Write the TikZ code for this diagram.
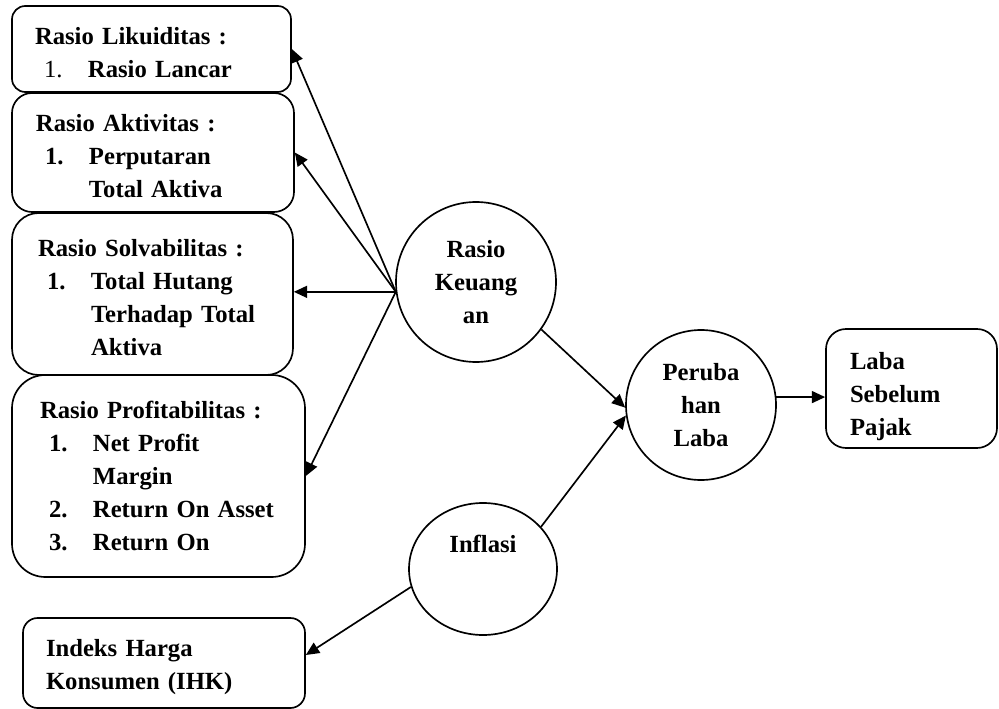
\documentclass[tikz,border=0pt]{standalone}
\usepackage{fontspec}
\setmainfont{Liberation Serif}
\usetikzlibrary{arrows.meta,shapes.geometric}

\newcommand{\tebal}{\fontsize{18.5}{24.75}\selectfont\bfseries}
\newcommand{\nomor}[1]{\hspace*{6.75pt}\makebox[33pt][l]{#1}}
\newcommand{\lanjut}{\hspace*{39.75pt}}

\begin{document}
\begin{tikzpicture}[
        x=0.75pt, y=-0.75pt,
        line width=1.25pt,
        kotak/.style={draw, rounded corners=#1, align=left, inner ysep=0pt, font=\tebal},
        bulat/.style={draw, circle, align=center, inner sep=0pt, font=\tebal},
        turun/.style={execute at begin node={\rule{0pt}{#1}}},
        panah/.style={-{Triangle[length=10pt, width=9pt]}},
    ]
    \useasboundingbox (0,0) rectangle (999,709);

    \node[kotak=10pt, turun=18.7pt, inner xsep=17.25pt, text width=174.75pt, minimum height=64.5pt] (lik) at (151.5,49)
        {Rasio Likuiditas :\\ \nomor{\mdseries 1.}Rasio Lancar};
    \node[kotak=15pt, turun=18.7pt, inner xsep=18pt, text width=175.5pt, minimum height=89.25pt] (akt) at (153,152.5)
        {Rasio Aktivitas :\\ \nomor{1.}Perputaran\\ \lanjut Total Aktiva};
    \node[kotak=20pt, turun=17.5pt, inner xsep=19.5pt, text width=171.75pt, minimum height=121.5pt] (sol) at (152.5,294)
        {Rasio Solvabilitas :\\ \nomor{1.}Total Hutang\\ \lanjut Terhadap Total\\ \lanjut Aktiva};
    \node[kotak=25pt, inner xsep=21pt, text width=177.75pt, minimum height=151.5pt] (pro) at (158.5,476)
        {Rasio Profitabilitas :\\ \nomor{1.}Net Profit\\ \lanjut Margin\\ \nomor{2.}Return On Asset\\ \nomor{3.}Return On};
    \node[kotak=11pt, turun=19pt, inner xsep=17.25pt, text width=177pt, minimum height=67.5pt] (ihk) at (164,663)
        {Indeks Harga\\ Konsumen (IHK)};
    \node[kotak=15pt, turun=24.5pt, inner xsep=18pt, text width=92.25pt, minimum height=89.25pt] (laba) at (911.5,388.5)
        {Laba\\ Sebelum\\ Pajak};

    \node[bulat, minimum size=120pt] (rk) at (476,282) {Rasio\\ Keuang\\ an};
    \node[bulat, turun=17pt, minimum size=112.5pt] (pl) at (701,405) {Peruba\\ han\\ Laba};
    \node[bulat, ellipse, minimum width=111pt, minimum height=99pt] (inf) at (483,569) {};
    \node[font=\tebal, anchor=base, inner sep=0pt] (inftext) at (483,552) {Inflasi};

    \path
    (rk.187) edge[panah] (lik.east)
    (rk.187) edge[panah] (akt.east)
    (rk.187) edge[panah] (rk.187 -| sol.east)
    (rk.187) edge[panah] (pro.east)
    (rk.-36) edge[panah] (pl.182)
    (inf.36) edge[panah] (pl.188)
    (inf.194) edge[panah] ([yshift=6pt]ihk.east)
    (pl.6) edge[panah] (pl.6 -| laba.west)
    ;
\end{tikzpicture}
\end{document}
